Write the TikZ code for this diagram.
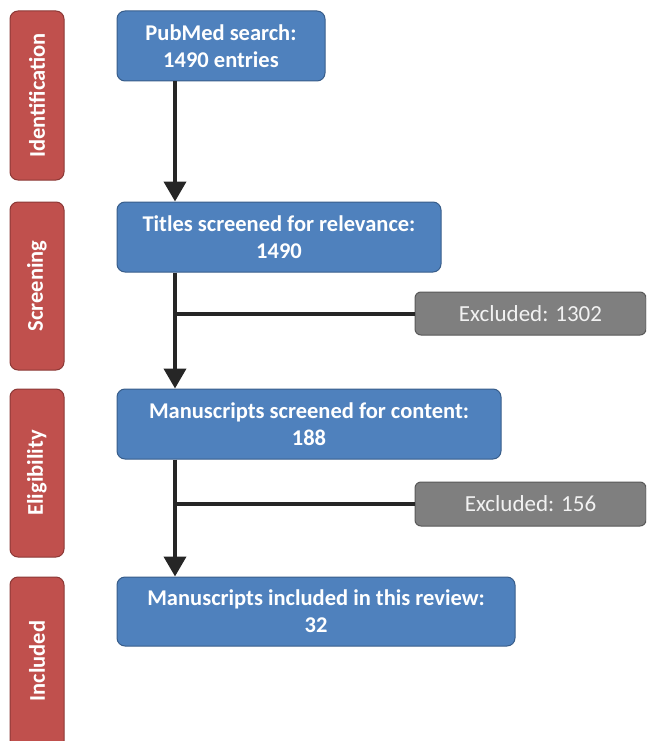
\documentclass[tikz,border=0pt]{standalone}
\usepackage{fontspec}
\setmainfont{Carlito}
\usetikzlibrary{arrows.meta}
\definecolor{bluefill}{HTML}{4F81BD}
\definecolor{blueline}{HTML}{385D8A}
\definecolor{redfill}{HTML}{C0504D}
\definecolor{redline}{HTML}{8C3836}
\definecolor{grayfill}{HTML}{7F7F7F}
\definecolor{grayline}{HTML}{595959}
\definecolor{graytext}{HTML}{F2F2F2}
\definecolor{conn}{HTML}{262626}
\tikzset{
  x=1pt, y=1pt,
  bluebox/.style={draw=blueline, fill=bluefill, line width=1pt, rounded corners=8pt,
    text=white, align=center, inner sep=0pt,
    font=\fontsize{22.5}{27}\selectfont\bfseries},
  redbox/.style={draw=redline, fill=redfill, line width=1pt, rounded corners=8pt,
    inner sep=0pt, minimum width=54pt},
  redlabel/.style={rotate=90, text=white, inner sep=0pt,
    font=\fontsize{22.5}{26}\selectfont\bfseries},
  graybox/.style={draw=grayline, fill=grayfill, line width=1pt, rounded corners=6pt,
    text=graytext, inner sep=0pt, minimum width=231pt,
    font=\fontsize{23}{26}\selectfont},
  flow/.style={draw=conn, line width=4pt, -{Triangle[width=22pt,length=20pt]}},
  branch/.style={draw=conn, line width=4pt},
}
\begin{document}
\begin{tikzpicture}
\useasboundingbox (0,0) rectangle (646,-741);
\clip (0,0) rectangle (646,-741);
% stage labels
\node[redbox, minimum height=169pt] (r1) at (37,-95.5) {};
\node[redlabel] (t1) at (r1.center) {Identification};
\node[redbox, minimum height=168pt] (r2) at (37,-286) {};
\node[redlabel] (t2) at (r2.center) {Screening};
\node[redbox, minimum height=168pt] (r3) at (37,-473) {};
\node[redlabel] (t3) at (r3.center) {Eligibility};
\node[redbox, minimum height=172pt] (r4) at (37,-663) {};
\node[redlabel] (t4) at (37,-661) {Included};
% main boxes
\node[bluebox, minimum width=208pt, minimum height=70pt] (b1) at (221,-46) {PubMed search:\\1490 entries};
\node[bluebox, minimum width=324pt, minimum height=70pt] (b2) at (279,-237) {Titles screened for relevance:\\1490};
\node[bluebox, minimum width=384pt, minimum height=70pt] (b3) at (309,-424) {Manuscripts screened for content:\\188};
\node[bluebox, minimum width=398pt, minimum height=69pt] (b4) at (316,-611.5) {Manuscripts included in this review:\\32};
% excluded
\node[graybox, minimum height=43pt] (e1) at (530.5,-313.5) {Excluded: 1302};
\node[graybox, minimum height=44pt] (e2) at (530.5,-504) {Excluded: 156};
% connectors
\coordinate (col) at (175,0);
\draw[flow] (b1.south -| col) -- (b2.north -| col);
\draw[flow] (b2.south -| col) -- (b3.north -| col);
\draw[flow] (b3.south -| col) -- (b4.north -| col);
\draw[branch] (e1.west) -- (e1.west -| col);
\draw[branch] (e2.west) -- (e2.west -| col);
\end{tikzpicture}
\end{document}
